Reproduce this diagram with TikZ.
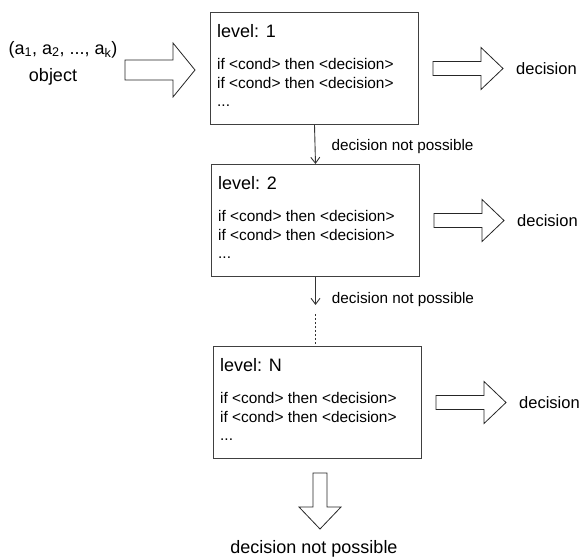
\documentclass[tikz,border=0pt]{standalone}
\usepackage{fontspec}
\setmainfont{Liberation Sans}
\usetikzlibrary{arrows.meta,positioning}

\tikzset{
  levelbox/.style={draw=black!75, line width=1pt, minimum width=208pt, minimum height=112pt, inner sep=0pt},
  headtxt/.style={inner sep=0pt, font=\fontsize{18pt}{21pt}\selectfont},
  ruletxt/.style={inner sep=0pt, font=\fontsize{15.4pt}{18pt}\selectfont},
  bigtxt/.style={inner sep=0pt, font=\fontsize{16.5pt}{20pt}\selectfont},
  lbltxt/.style={inner sep=0pt, font=\fontsize{15.3pt}{18pt}\selectfont},
  flowline/.style={draw=black!80, line width=0.9pt, -{Straight Barb[length=6pt,width=9pt]}},
  fatarrow/.style={draw=black!85, line width=0.8pt, fill=white, line join=miter}
}

% hollow block arrow: start, rotation, length, head length, half shaft, half head
\newcommand{\hollowarrow}[6]{%
  \draw[fatarrow, shift={(#1)}, rotate=#2]
    (0,-#5) -- (#3-#4,-#5) -- (#3-#4,-#6) -- (#3,0) -- (#3-#4,#6) -- (#3-#4,#5) -- (0,#5) -- cycle;}

\begin{document}
\begin{tikzpicture}[x=1pt,y=-1pt]
\useasboundingbox (0,0) rectangle (584,557);

% input object
\node[headtxt, anchor=base] (tuple) at (63,54) {(a\textsubscript{1}, a\textsubscript{2}, ..., a\textsubscript{k})};
\node[headtxt, anchor=base] (object) at (53,81) {object};
\coordinate (inarr) at (125,70);
\hollowarrow{inarr}{0}{70}{22}{10}{27}

% the levels
\foreach \n/\x/\y/\lvl in {1/210/12/1, 2/211/164/2, 3/213/346/N}{
  \node[levelbox, anchor=north west] (box\n) at (\x,\y) {};
  \node[headtxt, anchor=base west] (head\n) at ([xshift=7pt,yshift=-25pt]box\n.north west) {level: \lvl};
  \node[ruletxt, anchor=base west] (ruleA\n) at ([xshift=7pt,yshift=-57pt]box\n.north west) {if <cond> then <decision>};
  \node[ruletxt, anchor=base west] (ruleB\n) at ([xshift=7pt,yshift=-76pt]box\n.north west) {if <cond> then <decision>};
  \node[ruletxt, anchor=base west] (more\n) at ([xshift=7pt,yshift=-94pt]box\n.north west) {...};
  \coordinate (out\n) at ([xshift=14pt]box\n.east);
  \hollowarrow{out\n}{0}{70}{22}{7}{21}
  \node[bigtxt, anchor=west] (dec\n) at ([xshift=83pt]out\n) {decision};
}

% fall through between levels
\draw[flowline] (box1.south) -- (box2.north)
  node[lbltxt, pos=0.55, right=16pt] {decision not possible};
\coordinate (gap) at ([yshift=-28pt]box2.south);
\draw[flowline] (box2.south) -- (gap)
  node[lbltxt, pos=0.8, right=16pt] {decision not possible};
\draw[draw=black!80, line width=0.9pt, dash pattern=on 1.5pt off 2.5pt] ([yshift=-9pt]gap) -- (gap |- box3.north);

% last level fails
\coordinate (downarr) at ([xshift=2.5pt,yshift=-14pt]box3.south);
\hollowarrow{downarr}{-90}{56}{22}{7}{21}
\node[headtxt, anchor=base] (fail) at (314,553) {decision not possible};
\end{tikzpicture}
\end{document}
